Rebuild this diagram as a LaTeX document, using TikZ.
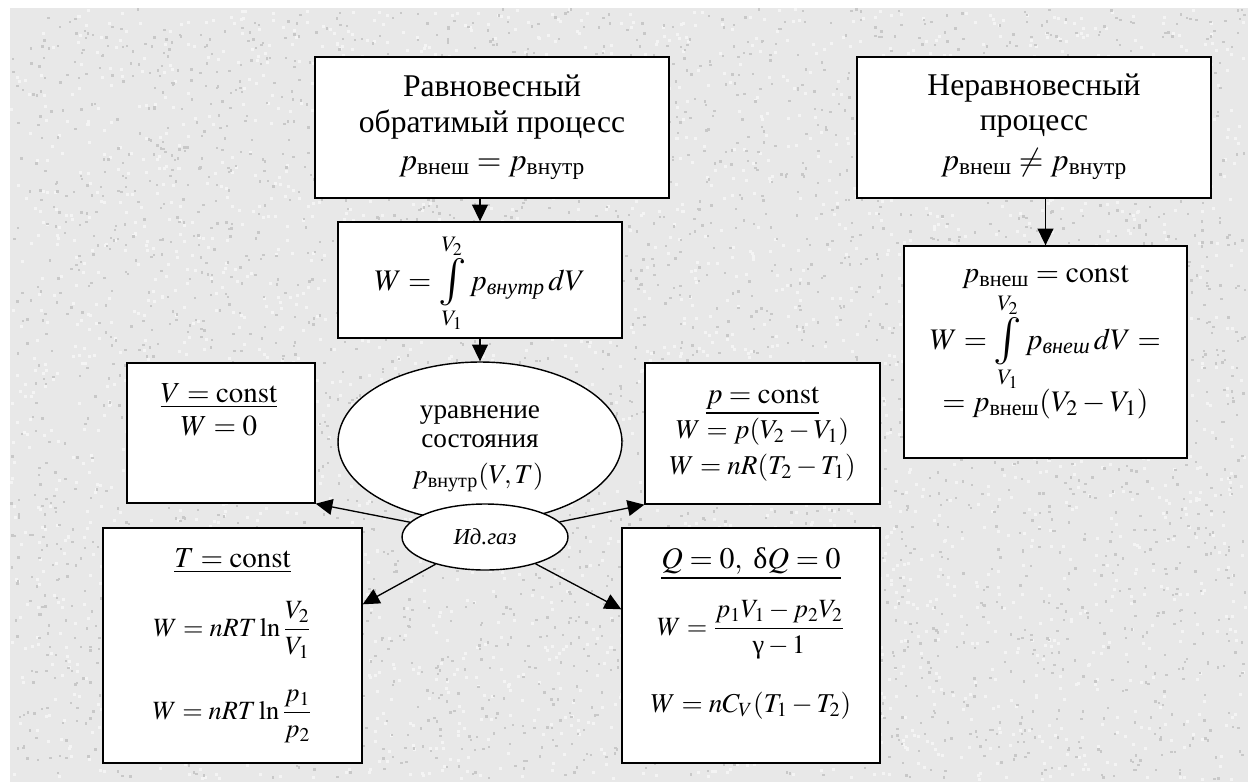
\documentclass[tikz,border=0pt]{standalone}
\usepackage{amsmath}
\usepackage{mathptmx}
\usepackage{fontspec}
\setmainfont{Liberation Serif}
\usetikzlibrary{arrows.meta,positioning,shapes.geometric}
\definecolor{workink}{RGB}{0,0,0}
\definecolor{workpaper}{RGB}{232,232,232}
\definecolor{workspeck}{RGB}{200,200,200}
\definecolor{worklight}{RGB}{244,244,244}
\tikzset{
  workbox/.style={draw=workink, line width=0.8pt, fill=white, inner sep=0pt},
  workoval/.style={ellipse, draw=workink, line width=0.8pt, fill=white,
    inner sep=0pt},
  worktext/.style={anchor=base, inner sep=0pt},
  workarrow/.style={-{Triangle[length=9.5pt,width=9pt]}, line width=0.75pt,
    workink},
}
\newcommand{\fsz}[1]{\fontsize{#1}{#1}\selectfont}
\newcommand{\wint}{\mathop{\vcenter{\hbox{\fsz{27}$\int$}}}\limits}

\begin{document}
\begin{tikzpicture}[x=0.02cm, y=-0.02cm]
  \useasboundingbox (0,0) rectangle (1248,782);
  \fill[workpaper] (10,8) rectangle (1248,782);
  \pgfmathsetseed{7}
  \foreach \i in {1,...,3000}
    \fill[worklight] ({10+1234*rnd},{8+770*rnd}) rectangle ++(3,3);
  \foreach \i in {1,...,3500}
    \fill[workspeck] ({10+1234*rnd},{8+770*rnd}) rectangle ++(2.4,2.4);
  % upper row
  \node[workbox, minimum width=7.08cm, minimum height=2.82cm] (eqproc) at (492,127.5) {};
  \node[worktext, font=\fsz{18}] (eqline1) at (492,96) {Равновесный};
  \node[worktext, font=\fsz{18}] (eqline2) at (492,132) {обратимый процесс};
  \node[worktext, font=\fsz{18}] (eqline3) at (492,170)
    {$p_{\text{внеш}} = p_{\text{внутр}}$};
  \node[workbox, minimum width=7.08cm, minimum height=2.82cm] (neqproc) at (1034,127.5) {};
  \node[worktext, font=\fsz{18}] (neqline1) at (1034,95) {Неравновесный};
  \node[worktext, font=\fsz{18}] (neqline2) at (1034,130) {процесс};
  \node[worktext, font=\fsz{18}] (neqline3) at (1034,170)
    {$p_{\text{внеш}} \neq p_{\text{внутр}}$};
  \node[workbox, minimum width=5.68cm, minimum height=2.32cm] (workint) at (480,280) {};
  \node[worktext, font=\fsz{17}] (intline) at (480,290)
    {$W = \wint_{V_1}^{V_2} p_{\textit{внутр}}\,dV$};
  \node[workbox, minimum width=5.66cm, minimum height=4.24cm] (extwork) at (1045.5,352) {};
  \node[worktext, font=\fsz{17}] (extline1) at (1045.5,282)
    {$p_{\text{внеш}} = \mathrm{const}$};
  \node[worktext, font=\fsz{17}] (extline2) at (1045.5,349)
    {$W = \wint_{V_1}^{V_2} p_{\textit{внеш}}\,dV =$};
  \node[worktext, font=\fsz{17}] (extline3) at (1045.5,411)
    {$= p_{\text{внеш}}(V_2 - V_1)$};
  % state equation and ideal gas
  \node[workoval, minimum width=5.68cm, minimum height=3.2cm] (state) at (480,442) {};
  \node[worktext, font=\fsz{15.5}] (stateline1) at (480,418) {уравнение};
  \node[worktext, font=\fsz{15.5}] (stateline2) at (480,447) {состояния};
  \node[worktext, font=\fsz{15.5}] (stateline3) at (478,483)
    {$p_{\text{внутр}}(V,T)$};
  \node[workbox, minimum width=3.76cm, minimum height=2.8cm] (vconst) at (221,433) {};
  \node[worktext, font=\fsz{16.5}] (vline1) at (219,402)
    {\underline{$V = \mathrm{const}$}};
  \node[worktext, font=\fsz{16.5}] (vline2) at (219,435) {$W = 0$};
  \node[workbox, minimum width=4.7cm, minimum height=2.82cm] (pconst) at (762.5,433.5) {};
  \node[worktext, font=\fsz{16.5}] (pline1) at (762.5,403)
    {\underline{$p = \mathrm{const}$}};
  \node[worktext, font=\fsz{15.5}] (pline2) at (762.5,438)
    {$W = p(V_2 - V_1)$};
  \node[worktext, font=\fsz{15.5}] (pline3) at (762.5,474)
    {$W = nR(T_2 - T_1)$};
  \node[workoval, minimum width=3.32cm, minimum height=1.32cm,
    font=\fsz{13}\itshape] (gas) at (485,537) {Ид.газ};
  % lower row
  \node[workbox, minimum width=5.18cm, minimum height=4.7cm] (tconst) at (232.5,645.5) {};
  \node[worktext, font=\fsz{16.5}] (tline1) at (232.5,567)
    {\underline{$T = \mathrm{const}$}};
  \node[worktext, font=\fsz{15}] (tline2) at (232.5,636)
    {$W = nRT\ln\dfrac{V_2}{V_1}$};
  \node[worktext, font=\fsz{15}] (tline3) at (232.5,719)
    {$W = nRT\ln\dfrac{p_1}{p_2}$};
  \node[workbox, minimum width=5.16cm, minimum height=4.7cm] (adiab) at (751,645.5) {};
  \node[worktext, font=\fsz{17}] (qline1) at (751,568)
    {\underline{$Q = 0,\ \text{δ}Q = 0$}};
  \node[worktext, font=\fsz{15}] (qline2) at (751,635)
    {$W = \dfrac{p_1V_1 - p_2V_2}{\text{γ} - 1}$};
  \node[worktext, font=\fsz{15.5}] (qline3) at (751,712)
    {$W = nC_V(T_1 - T_2)$};
  % connectors
  \draw[workarrow] (workint.north |- eqproc.south) -- (workint.north);
  \draw[workarrow] (workint.south) -- (state.north);
  \draw[workarrow] (extwork.north |- neqproc.south) -- (extwork.north);
  \draw[workarrow] (gas) -- (vconst.south east);
  \draw[workarrow] (gas) -- (pconst.south west);
  \draw[workarrow] (gas) -- ([yshift=-1.54cm]tconst.north east);
  \draw[workarrow] (gas) -- ([yshift=-1.64cm]adiab.north west);
\end{tikzpicture}
\end{document}
